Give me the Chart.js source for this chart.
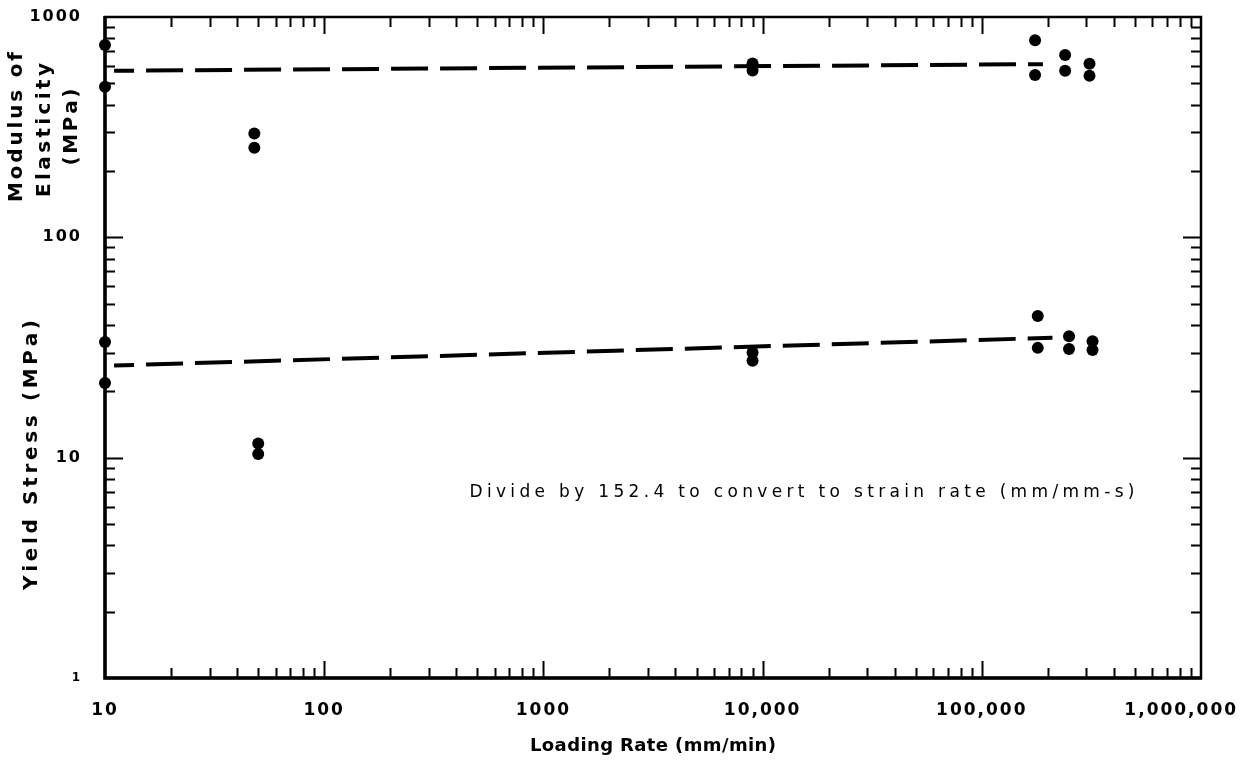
<!DOCTYPE html>
<html>
<head>
<meta charset="utf-8">
<title>Loading rate vs. modulus and yield stress</title>
<script src="https://cdn.jsdelivr.net/npm/chart.js@4.4.1/dist/chart.umd.min.js"></script>
<style>
  html, body { margin: 0; padding: 0; background: #fff; }
  #wrap { width: 1258px; height: 763px; }
</style>
</head>
<body>
<div id="wrap"><canvas id="c" width="1258" height="763"></canvas></div>
<script>
// Axis decades and their printed labels
const xTickValues = [10, 100, 1000, 10000, 100000, 1000000];
const xTickLabels = ['10', '100', '1000', '10,000', '100,000', '1,000,000'];
const yTickValues = [1, 10, 100, 1000];
const yTickLabels = ['1', '10', '100', '1000'];

// Modulus of elasticity (MPa) vs loading rate (mm/min)
const modulusRate = [10, 10, 48, 48, 9000, 9000, 175000, 175000, 240000, 240000, 310000, 310000];
const modulusMPa  = [747, 482, 296, 255, 615, 572, 785, 545, 673, 570, 613, 541];

// Yield stress (MPa) vs loading rate (mm/min)
const yieldRate = [10, 10, 50, 50, 9000, 9000, 180000, 180000, 250000, 250000, 320000, 320000];
const yieldMPa  = [33.5, 21.8, 11.6, 10.4, 30, 27.5, 44, 31.5, 35.6, 31.1, 33.8, 30.8];

// Fitted trend lines (end points)
const modulusFitRate = [11, 190000];
const modulusFitMPa  = [570, 611];
const yieldFitRate   = [11, 210000];
const yieldFitMPa    = [26.2, 35];

const toXY = (xs, ys) => xs.map((x, i) => ({ x: x, y: ys[i] }));

const FONT = "'DejaVu Sans', 'Liberation Sans', sans-serif";

// Text with spread-out letters, centred on (cx, cy), optionally rotated
function spacedText(ctx, text, cx, cy, font, width, rotate) {
  ctx.save();
  ctx.font = font;
  if ('letterSpacing' in ctx) ctx.letterSpacing = '0px';
  const chars = [...text];
  const widths = chars.map(ch => ctx.measureText(ch).width);
  const natural = widths.reduce((a, b) => a + b, 0);
  const gap = chars.length > 1 ? (width - natural) / (chars.length - 1) : 0;
  ctx.translate(cx, cy);
  if (rotate) ctx.rotate(-Math.PI / 2);
  ctx.fillStyle = '#000';
  ctx.textAlign = 'left';
  ctx.textBaseline = 'middle';
  let x = -width / 2;
  chars.forEach((ch, i) => {
    ctx.fillText(ch, x, 0);
    x += widths[i] + gap;
  });
  ctx.restore();
}

// Wide letter spacing for the tick labels
const spacingPlugin = {
  id: 'spacing',
  beforeLayout(chart) { if ('letterSpacing' in chart.ctx) chart.ctx.letterSpacing = '2px'; },
  beforeDraw(chart) { if ('letterSpacing' in chart.ctx) chart.ctx.letterSpacing = '2px'; }
};

// Box frame with inward-pointing log ticks on all four sides
const framePlugin = {
  id: 'frame',
  beforeDatasetsDraw(chart) {
    const { ctx, chartArea: a, scales } = chart;
    const xs = scales.x, ys = scales.y;
    ctx.save();
    ctx.strokeStyle = '#000';
    ctx.lineCap = 'butt';

    ctx.lineWidth = 2;
    for (let d = 1; d <= 5; d++) {
      for (let m = 1; m <= 9; m++) {
        const v = m * Math.pow(10, d);
        if (v <= xTickValues[0] || v >= xTickValues[xTickValues.length - 1]) continue;
        const px = Math.round(xs.getPixelForValue(v)) + 0.5;
        const len = m === 1 ? 17 : 10;
        ctx.beginPath();
        ctx.moveTo(px, a.bottom); ctx.lineTo(px, a.bottom - len);
        ctx.moveTo(px, a.top); ctx.lineTo(px, a.top + len);
        ctx.stroke();
      }
    }
    for (let d = 0; d <= 2; d++) {
      for (let m = 1; m <= 9; m++) {
        const v = m * Math.pow(10, d);
        if (v <= yTickValues[0] || v >= yTickValues[yTickValues.length - 1]) continue;
        const py = Math.round(ys.getPixelForValue(v)) + 0.5;
        const len = m === 1 ? 18 : 10;
        ctx.beginPath();
        ctx.moveTo(a.left, py); ctx.lineTo(a.left + len, py);
        ctx.moveTo(a.right, py); ctx.lineTo(a.right - len, py);
        ctx.stroke();
      }
    }

    ctx.lineWidth = 2.5;
    ctx.strokeRect(a.left, a.top, a.right - a.left, a.bottom - a.top);
    ctx.lineWidth = 3.5;
    ctx.beginPath();
    ctx.moveTo(a.left, a.top - 1); ctx.lineTo(a.left, a.bottom);
    ctx.lineTo(a.right + 1, a.bottom);
    ctx.stroke();
    ctx.restore();
  }
};

// Axis titles and note
const textPlugin = {
  id: 'texts',
  afterDraw(chart) {
    const ctx = chart.ctx;
    const bold20 = 'bold 20px ' + FONT;
    spacedText(ctx, 'Modulus of', 17, 127, bold20, 150, true);
    spacedText(ctx, 'Elasticity', 45, 130, bold20, 134, true);
    spacedText(ctx, '(MPa)', 72, 127, bold20, 77, true);
    spacedText(ctx, 'Yield Stress (MPa)', 32, 455, bold20, 270, true);
    spacedText(ctx, 'Loading Rate (mm/min)', 653, 746, 'bold 18px ' + FONT, 246, false);
    spacedText(ctx, 'Divide by 152.4 to convert to strain rate (mm/mm-s)', 802, 493, '17px ' + FONT, 665, false);
  }
};

const pointStyle = {
  type: 'scatter',
  showLine: false,
  pointRadius: 6,
  pointHoverRadius: 6,
  pointBackgroundColor: '#000',
  pointBorderColor: '#000',
  pointBorderWidth: 0,
  clip: false
};
const fitStyle = {
  type: 'scatter',
  showLine: true,
  pointRadius: 0,
  borderColor: '#000',
  borderWidth: 4,
  borderDash: [37, 12],
  borderDashOffset: 17,
  borderCapStyle: 'butt',
  fill: false,
  clip: false
};

new Chart(document.getElementById('c'), {
  type: 'scatter',
  data: {
    datasets: [
      Object.assign({ label: 'Modulus fit', data: toXY(modulusFitRate, modulusFitMPa) }, fitStyle),
      Object.assign({ label: 'Yield fit', data: toXY(yieldFitRate, yieldFitMPa) }, fitStyle),
      Object.assign({ label: 'Modulus of Elasticity', data: toXY(modulusRate, modulusMPa) }, pointStyle),
      Object.assign({ label: 'Yield Stress', data: toXY(yieldRate, yieldMPa) }, pointStyle)
    ]
  },
  options: {
    responsive: false,
    devicePixelRatio: 1,
    animation: false,
    events: [],
    layout: { padding: { top: 17, right: 57, bottom: 0, left: 0 } },
    plugins: { legend: { display: false }, tooltip: { enabled: false } },
    scales: {
      x: {
        type: 'logarithmic',
        min: 10,
        max: 1000000,
        grid: { display: false },
        border: { display: false },
        afterBuildTicks: s => { s.ticks = xTickValues.map(v => ({ value: v, major: true })); },
        afterFit: s => { s.height = 85; s.paddingLeft = 0; s.paddingRight = 0; },
        ticks: {
          autoSkip: false,
          maxRotation: 0,
          minRotation: 0,
          color: '#000',
          padding: 14,
          font: { family: FONT, weight: 'bold', size: 17 },
          // the last label is nudged left so it stays on the page
          callback: (v, i) => i === xTickLabels.length - 1 ? xTickLabels[i] + '     ' : xTickLabels[i]
        }
      },
      y: {
        type: 'logarithmic',
        min: 1,
        max: 1000,
        grid: { display: false },
        border: { display: false },
        afterBuildTicks: s => { s.ticks = yTickValues.map(v => ({ value: v, major: true })); },
        afterFit: s => { s.width = 105; s.paddingTop = 0; s.paddingBottom = 0; },
        ticks: {
          autoSkip: false,
          color: '#000',
          padding: 15,
          font: ctx => ({ family: FONT, weight: 'bold', size: ctx.index === 0 ? 12 : 16 }),
          callback: (v, i) => yTickLabels[i]
        }
      }
    }
  },
  plugins: [spacingPlugin, framePlugin, textPlugin]
});
</script>
</body>
</html>
